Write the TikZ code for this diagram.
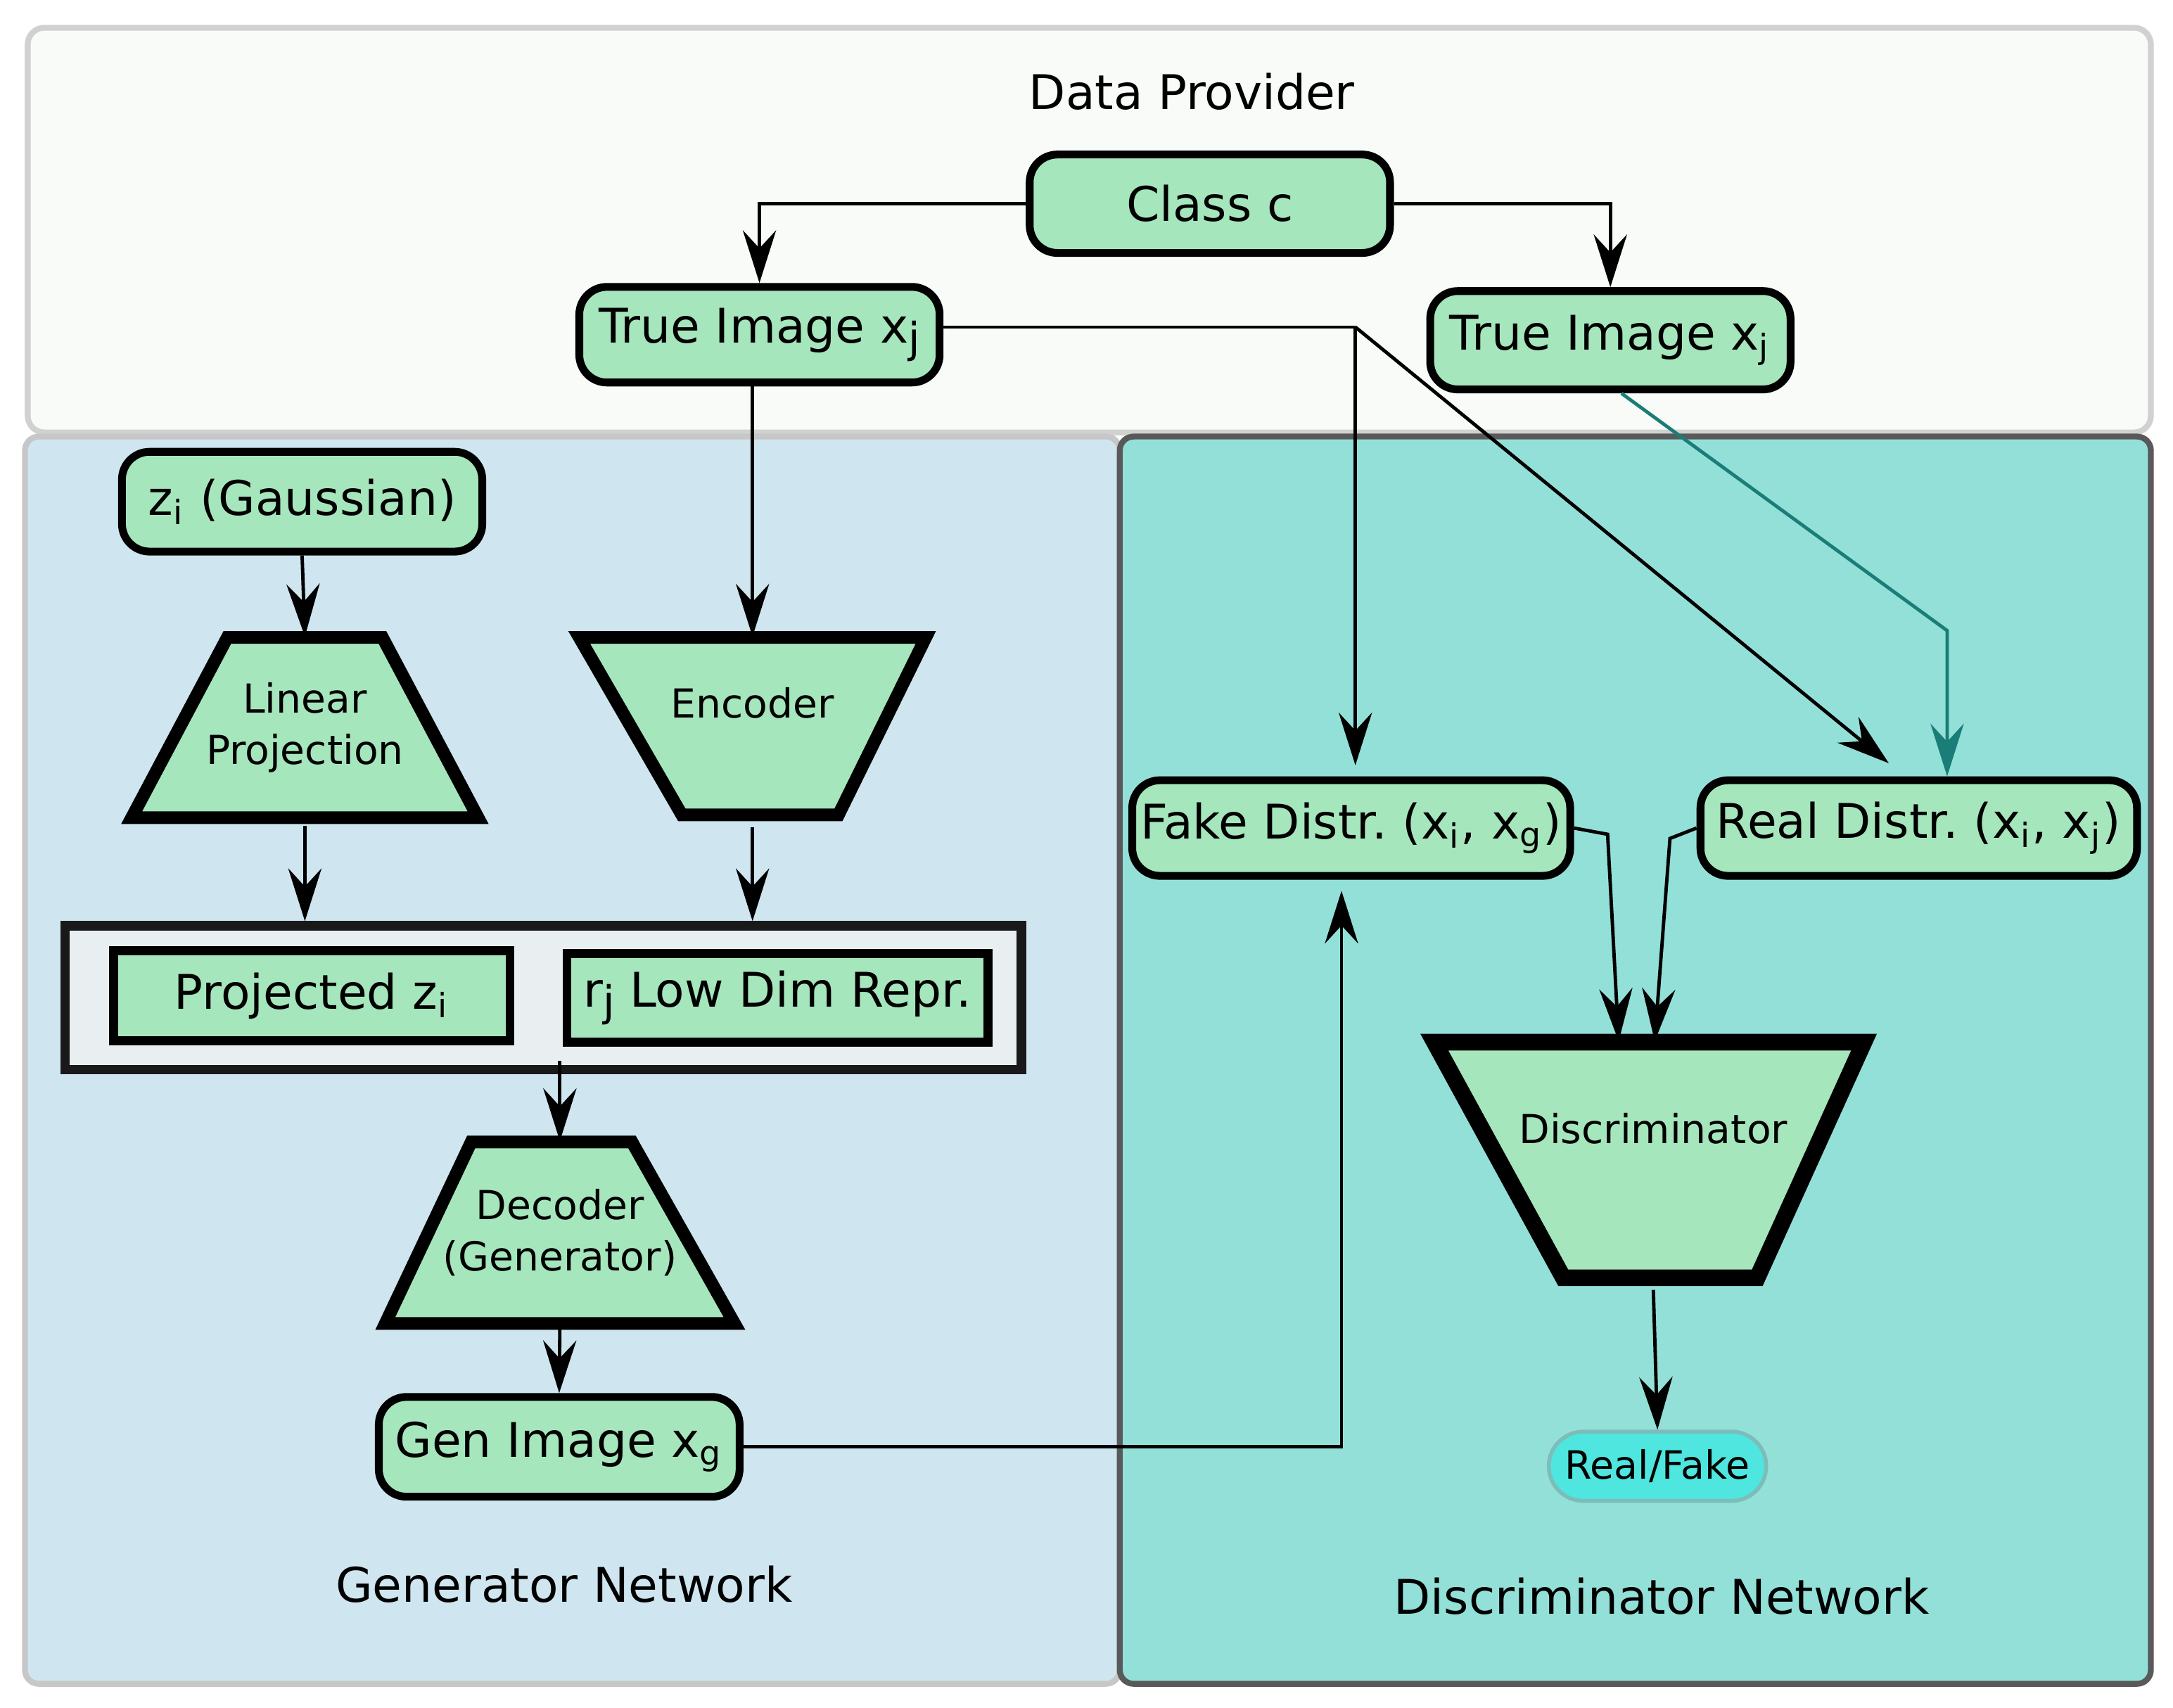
\documentclass[tikz,border=0pt]{standalone}
\usepackage{fontspec}
\setmainfont{DejaVu Sans}
\usetikzlibrary{arrows.meta,positioning,calc}
\definecolor{boxgreen}{HTML}{A6E6BD}
\definecolor{dpfill}{HTML}{F8FBF8}
\definecolor{genfill}{HTML}{CFE5EF}
\definecolor{disfill}{HTML}{93E0D9}
\definecolor{grpfill}{HTML}{E9EFF0}
\definecolor{rffill}{HTML}{4EE6DF}
\definecolor{rfline}{HTML}{7DBDB9}
\definecolor{tealline}{HTML}{1B7D78}
\newcommand{\sbs}[1]{\textsubscript{#1}}
\newcommand{\lowj}{\raisebox{-0.2em}{\fontsize{8.6}{8.6}\selectfont j}}
\frenchspacing

\begin{document}
\begin{tikzpicture}[
	box/.style={draw=black, line width=1.6pt, fill=boxgreen, rounded corners=0.2cm, font=\fontsize{9.8}{12}\selectfont},
	flatbox/.style={draw=black, line width=1.8pt, fill=boxgreen, font=\fontsize{9.8}{12}\selectfont},
	trapline/.style={draw=black, line width=2.6pt, fill=boxgreen},
	traptext/.style={inner sep=0pt, align=center, font=\fontsize{8.2}{10.5}\selectfont},
	title/.style={font=\fontsize{9.8}{12}\selectfont},
	link/.style={-{Stealth[length=3.8mm,width=2.4mm,inset=1.3mm]}, line width=0.7pt}
]
				\useasboundingbox (0,0) rectangle (15.68,-12.32);
				\draw[draw=black!18, line width=1.2pt, fill=dpfill, rounded corners=0.12cm] (0.20,-0.20) rectangle (15.52,-3.12);
				\draw[draw=black!22, line width=1.2pt, fill=genfill, rounded corners=0.1cm] (0.18,-3.15) rectangle (8.08,-12.15);
				\draw[draw=black!65, line width=1.2pt, fill=disfill, rounded corners=0.1cm] (8.08,-3.15) rectangle (15.52,-12.15);
				\node[title] (dptitle) at (8.60,-0.66) {Data Provider};
				\node[title] (gentitle) at (4.07,-11.43) {Generator Network};
				\node[title] (distitle) at (11.99,-11.52) {Discriminator Network};
				\draw[trapline] (0.95,-5.90) -- (3.45,-5.90) -- (2.76,-4.60) -- (1.64,-4.60) -- cycle;
				\draw[trapline] (4.18,-4.60) -- (6.68,-4.60) -- (6.05,-5.88) -- (4.92,-5.88) -- cycle;
				\draw[trapline] (2.78,-9.55) -- (5.30,-9.55) -- (4.56,-8.24) -- (3.40,-8.24) -- cycle;
				\draw[trapline, line width=3.4pt] (10.35,-7.52) -- (13.45,-7.52) -- (12.68,-9.22) -- (11.28,-9.22) -- cycle;
				\node[box, minimum width=2.60cm, minimum height=0.71cm] (cls) at (8.73,-1.47) {Class c};
				\node[box, minimum width=2.60cm, minimum height=0.69cm] (truei) at (5.48,-2.415) {True Image x\lowj};
				\node[box, minimum width=2.60cm, minimum height=0.71cm] (truej) at (11.62,-2.455) {True Image x\sbs{j}};
				\node[box, minimum width=2.60cm, minimum height=0.72cm] (zi) at (2.18,-3.62) {z\sbs{i} (Gaussian)};
				\node[traptext, minimum width=2.50cm, minimum height=1.30cm] (linproj) at (2.20,-5.25) {Linear\\Projection};
				\node[traptext, minimum width=2.50cm, minimum height=1.28cm, text depth=0.34cm] (enc) at (5.43,-5.24) {Encoder};
				\node[draw=black!90, line width=1.9pt, fill=grpfill, minimum width=6.90cm, minimum height=1.04cm] (grp) at (3.92,-7.20) {};
				\node[flatbox, minimum width=2.86cm, minimum height=0.65cm] (projz) at (2.25,-7.185) {Projected z\sbs{i}};
				\node[flatbox, minimum width=2.86cm, minimum height=0.64cm] (lowdim) at (5.61,-7.20) {r\lowj{} Low Dim Repr.};
				\node[traptext, minimum width=2.52cm, minimum height=1.31cm] (dec) at (4.04,-8.895) {Decoder\\(Generator)};
				\node[box, minimum width=2.59cm, minimum height=0.72cm] (genimg) at (4.035,-10.44) {Gen Image x\sbs{g}};
				\node[box, inner xsep=1pt, minimum width=3.16cm, minimum height=0.69cm] (fake) at (9.75,-5.975) {Fake Distr. (x\sbs{i}, x\sbs{g})};
				\node[box, inner xsep=1pt, minimum width=3.15cm, minimum height=0.69cm] (real) at (13.845,-5.975) {Real Distr. (x\sbs{i}, x\sbs{j})};
				\node[traptext, minimum width=3.10cm, minimum height=1.70cm, text depth=0.46cm] (disc) at (11.93,-8.37) {Discriminator};
				\node[draw=rfline, line width=0.8pt, fill=rffill, rounded corners=0.25cm, minimum width=1.56cm, minimum height=0.50cm, font=\fontsize{8}{10}\selectfont] (rf) at (11.96,-10.58) {Real/Fake};
				\coordinate (fork) at (9.78,-2.36);
				\coordinate (tjbend) at (14.05,-4.55);
				\coordinate (fkbend) at (11.60,-6.02);
				\coordinate (rlbend) at (12.05,-6.05);
				\draw[link] (cls.west) -| (truei.north);
				\draw[link] (cls.east) -| (truej.north);
				\draw[link] (enc.north |- truei.south) -- (enc.north);
				\draw[line width=0.7pt] (truei.east |- fork) -- (fork);
				\draw[link, shorten >=0.08cm] (fork) -- (fork |- fake.north);
				\draw[link, shorten >=0.15cm] (fork) -- ([xshift=-0.1cm]real.north);
				\draw[link, draw=tealline] ([xshift=0.08cm]truej.south) -- (tjbend) -- (tjbend |- real.north);
				\draw[link] (zi.south) -- (linproj.north);
				\draw[link] ([yshift=-0.05cm]linproj.south) -- (linproj.south |- grp.north);
				\draw[link] ([yshift=-0.08cm]enc.south) -- (enc.south |- grp.north);
				\draw[link] ([yshift=0.1cm]dec.north |- grp.south) -- (dec.north);
				\draw[link] (dec.south) -- (genimg.north);
				\draw[link, shorten >=0.08cm] (genimg.east) -| ([xshift=-0.07cm]fake.south);
				\draw[link] (fake.east) -- (fkbend) -- ([xshift=-0.25cm]disc.north);
				\draw[link] (real.west) -- (rlbend) -- ([xshift=0.01cm]disc.north);
				\draw[link] ([yshift=-0.08cm]disc.south) -- (rf.north);
				\end{tikzpicture}
\end{document}
